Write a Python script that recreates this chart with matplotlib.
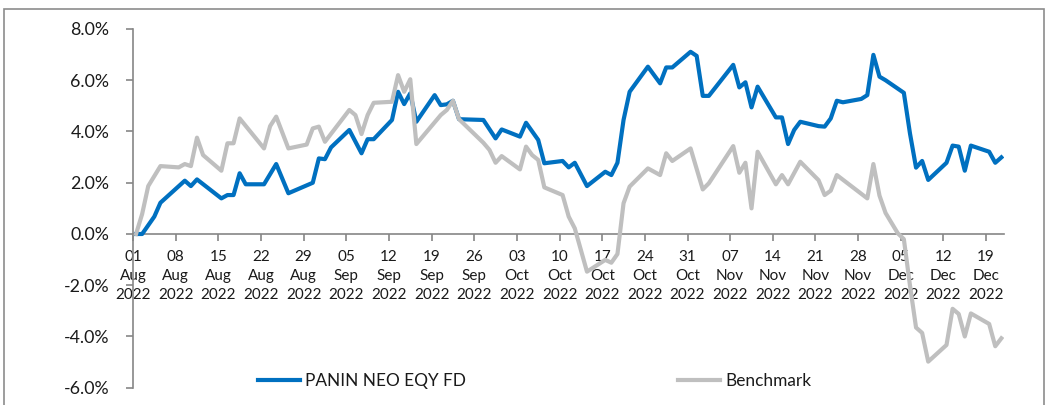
import matplotlib
matplotlib.use("Agg")
import matplotlib.pyplot as plt
import matplotlib.dates as mdates
import numpy as np
import pandas as pd
from matplotlib.patches import Rectangle

START = "2022-08-01"

# Day offsets from 01 Aug 2022 and returns (%)
fund_days = [0, 1, 3, 4, 8, 9, 10, 14, 15, 16, 17, 18, 21, 23, 25, 29, 30, 31, 32, 35,
             37, 38, 39, 42, 43, 44, 45, 46, 49, 50, 51, 52, 53, 57, 59, 60, 63, 64, 66,
             67, 70, 71, 72, 74, 77, 78, 79, 80, 81, 84, 86, 87, 88, 91, 92, 93, 94, 98,
             99, 100, 101, 102, 105, 106, 107, 108, 109, 112, 113, 114, 115, 116, 119,
             120, 121, 122, 123, 126, 127, 128, 129, 130, 133, 134, 135, 136, 137, 140,
             141, 142]
fund_vals = [0.0, 0.0, 0.68, 1.22, 2.08, 1.87, 2.13, 1.39, 1.52, 1.52, 2.37, 1.94, 1.94,
             2.73, 1.59, 2.0, 2.95, 2.92, 3.38, 4.06, 3.15, 3.7, 3.7, 4.45, 5.55, 5.07,
             5.49, 4.38, 5.42, 5.03, 5.06, 5.2, 4.48, 4.45, 3.73, 4.08, 3.8, 4.34, 3.67,
             2.76, 2.85, 2.6, 2.78, 1.87, 2.43, 2.3, 2.78, 4.45, 5.55, 6.53, 5.88, 6.5,
             6.5, 7.11, 6.95, 5.39, 5.39, 6.6, 5.72, 5.92, 4.94, 5.75, 4.55, 4.55, 3.51,
             4.06, 4.38, 4.21, 4.19, 4.51, 5.2, 5.14, 5.27, 5.42, 6.99, 6.14, 6.0, 5.51,
             3.93, 2.59, 2.85, 2.11, 2.78, 3.45, 3.41, 2.47, 3.45, 3.21, 2.78, 2.99]

bench_days = [0, 1, 2, 4, 7, 8, 9, 10, 11, 14, 15, 16, 17, 21, 22, 23, 25, 28, 29, 30,
              31, 35, 36, 37, 38, 39, 42, 43, 44, 45, 46, 50, 51, 52, 53, 57, 58, 59, 60,
              63, 64, 65, 66, 67, 70, 71, 72, 74, 77, 78, 79, 80, 81, 84, 86, 87, 88, 91,
              93, 94, 98, 99, 100, 101, 102, 105, 106, 107, 109, 112, 113, 114, 115, 120,
              121, 122, 123, 125, 126, 127, 128, 129, 130, 133, 134, 135, 136, 137, 140,
              141, 142]
bench_vals = [0.0, 0.78, 1.87, 2.65, 2.6, 2.73, 2.65, 3.76, 3.08, 2.47, 3.54, 3.54, 4.51,
              3.34, 4.21, 4.58, 3.34, 3.49, 4.12, 4.19, 3.6, 4.84, 4.64, 3.9, 4.64, 5.12,
              5.16, 6.2, 5.55, 6.04, 3.51, 4.64, 4.84, 5.2, 4.48, 3.56, 3.28, 2.78, 3.04,
              2.52, 3.41, 3.08, 2.89, 1.82, 1.52, 0.68, 0.22, -1.47, -1.01, -1.12, -0.78,
              1.2, 1.85, 2.56, 2.3, 3.15, 2.85, 3.34, 1.74, 1.98, 3.43, 2.39, 2.78, 1.0,
              3.21, 1.94, 2.3, 1.94, 2.82, 2.1, 1.52, 1.69, 2.3, 1.39, 2.73, 1.5, 0.82,
              0.03, -0.2, -2.0, -3.65, -3.86, -4.98, -4.33, -2.92, -3.12, -4.0, -3.1,
              -3.51, -4.38, -4.07]

fund_name = "PANIN NEO EQY FD"
bench_name = "Benchmark"
y_ticks = [-6, -4, -2, 0, 2, 4, 6, 8]

W, H = 1047, 405
fig = plt.figure(figsize=(W / 100, H / 100), dpi=100)
plt.rcParams['font.family'] = ['Lato', 'DejaVu Sans']

ax = fig.add_axes([133 / W, 1 - 387.75 / H, (1004.4 - 133) / W, (387.75 - 29) / H])

start = pd.Timestamp(START)
base = mdates.date2num(start)
fund_dates = [start + pd.Timedelta(days=d) for d in fund_days]
bench_dates = [start + pd.Timedelta(days=d) for d in bench_days]
fx = mdates.date2num(fund_dates) + 0.5
bx = mdates.date2num(bench_dates) + 0.5

ax.plot(fx, np.array(fund_vals) / 100, color="#0070C0", lw=3.0, solid_joinstyle="round",
        label=fund_name, zorder=3)
ax.plot(bx, np.array(bench_vals) / 100, color="#BFBFBF", lw=3.0, solid_joinstyle="round",
        label=bench_name, zorder=4)

ax.set_xlim(base, base + 143)
ax.set_ylim(-0.06, 0.08)

tick_dates = [start + pd.Timedelta(days=7 * i) for i in range(21)]
tick_nums = mdates.date2num(tick_dates)
ax.set_xticks(tick_nums)
ax.set_xticklabels([])
for xn, d in zip(tick_nums, tick_dates):
    ax.annotate(d.strftime("%d\n%b\n%Y"), xy=(xn, 0), xycoords="data",
                xytext=(0, -11.5), textcoords="offset points", ha="center", va="top",
                fontsize=11, color="#1a1a1a", linespacing=1.47, zorder=2.5,
                annotation_clip=False)

ax.set_yticks([v / 100 for v in y_ticks])
ax.set_yticklabels([f"{v:.1f}%" for v in y_ticks], fontsize=12.8, color="#1a1a1a")

for s in ["top", "right"]:
    ax.spines[s].set_visible(False)
ax.spines["bottom"].set_position(("data", 0))
ax.spines["bottom"].set_color("#868686")
ax.spines["left"].set_color("#868686")
ax.spines["bottom"].set_linewidth(1.2)
ax.spines["left"].set_linewidth(1.2)
ax.tick_params(axis="x", direction="out", length=5, width=1.2, color="#868686", pad=6)
ax.tick_params(axis="y", direction="out", length=5, width=1.2, color="#868686", pad=12)
ax.set_zorder(2)

leg = ax.legend(loc="center", bbox_to_anchor=(0.461, 0.019), ncol=2, frameon=False,
                fontsize=12.4, handlelength=2.45, columnspacing=12.3, handletextpad=0.3,
                borderaxespad=0, borderpad=0)
for t in leg.get_texts():
    t.set_color("#1a1a1a")

fig.patches.append(Rectangle((4 / W, -0.05), (1044 - 4) / W, 1.05 - 9 / H,
                             transform=fig.transFigure, fill=False,
                             edgecolor="#8C8C8C", lw=1.2))

fig.savefig("out.png", dpi=100)
